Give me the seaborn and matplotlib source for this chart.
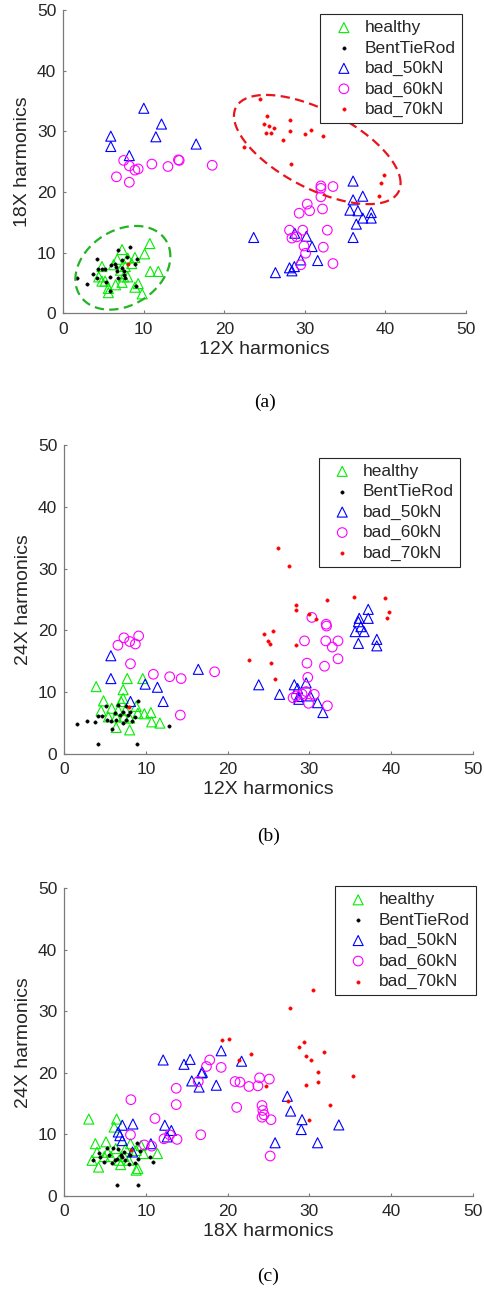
import numpy as np
import pandas as pd
import matplotlib
matplotlib.use("Agg")
import matplotlib.pyplot as plt
import seaborn as sns

# ---------------- data ----------------
classes = ["healthy", "BentTieRod", "bad_50kN", "bad_60kN", "bad_70kN"]

# panel (a): 12X (x) vs 18X (y)
a_healthy_x = [10.75, 10.1, 7.3, 6.7, 4.8, 8.0, 8.9, 7.7, 7.1, 4.4, 5.2, 4.8, 6.5, 5.6, 7.3, 8.0, 9.3, 8.9, 9.8, 10.8, 11.8, 8.5, 6.25, 7.5, 5.6]
a_healthy_y = [11.5, 9.8, 10.5, 8.9, 7.7, 9.1, 9.2, 7.7, 7.1, 6.0, 5.3, 5.3, 4.7, 3.4, 5.1, 6.0, 4.9, 4.3, 3.2, 6.9, 6.9, 8.2, 8.0, 6.0, 4.1]
a_bent_x = [1.7, 2.9, 4.2, 3.75, 4.25, 4.8, 5.2, 4.2, 5.3, 5.8, 6.8, 8.3, 6.4, 5.9, 6.6, 7.3, 7.9, 9.1, 7.6, 7.5, 6.8, 7.7, 9.0, 7.3, 6.7, 5.75, 8.9]
a_bent_y = [5.9, 4.8, 9.0, 6.5, 7.25, 7.25, 7.25, 5.8, 5.1, 3.6, 10.4, 10.9, 8.2, 7.9, 7.7, 7.5, 9.3, 9.0, 7.0, 6.3, 5.9, 5.8, 4.5, 8.8, 7.0, 6.0, 8.1]
a_b50_x = [10.0, 12.2, 11.5, 5.9, 5.9, 8.2, 16.5, 23.65, 26.35, 28.1, 28.4, 28.7, 29.5, 31.6, 30.9, 30.2, 28.75, 36.0, 37.2, 36.0, 35.6, 36.6, 37.2, 38.25, 38.25, 36.4, 36.0]
a_b50_y = [33.8, 31.2, 29.1, 29.2, 27.5, 26.0, 27.9, 12.5, 6.7, 7.5, 7.0, 7.7, 8.8, 8.7, 11.0, 12.7, 13.2, 21.8, 19.3, 18.7, 17.0, 16.9, 15.7, 16.6, 15.7, 14.7, 12.5]
a_b60_x = [7.5, 8.2, 8.9, 9.3, 6.6, 8.2, 11.0, 13.0, 14.4, 14.3, 18.5, 32.0, 32.0, 33.5, 32.0, 30.3, 29.3, 30.6, 32.2, 28.1, 29.75, 32.8, 28.4, 29.0, 29.9, 30.1, 32.3, 29.5, 33.5]
a_b60_y = [25.2, 24.3, 23.6, 23.8, 22.5, 21.6, 24.6, 24.2, 25.2, 25.3, 24.4, 21.0, 20.6, 20.9, 19.2, 18.0, 16.5, 16.9, 17.2, 13.7, 13.7, 13.7, 12.4, 12.6, 11.1, 9.9, 10.9, 8.0, 8.2]
a_b70_x = [24.4, 25.3, 24.9, 25.6, 26.2, 25.2, 25.85, 28.2, 28.2, 30.0, 30.8, 32.2, 27.3, 22.4, 28.3, 39.8, 39.5, 39.2, 8.0]
a_b70_y = [35.3, 32.5, 31.2, 30.9, 30.5, 29.8, 29.8, 31.8, 30.1, 29.6, 30.2, 29.3, 28.5, 27.4, 24.6, 22.8, 21.4, 19.3, 8.2]

# panel (b): 12X (x) vs 24X (y)
b_healthy_x = [3.9, 7.7, 9.6, 7.2, 4.8, 7.2, 4.5, 5.4, 6.35, 6.6, 7.5, 8.8, 9.0, 9.8, 10.6, 10.7, 11.7, 8.0, 6.35, 8.0, 7.3, 6.95, 5.8]
b_healthy_y = [10.9, 12.2, 12.2, 10.4, 8.6, 9.0, 7.0, 6.0, 6.0, 7.1, 7.1, 7.7, 6.6, 6.5, 6.7, 5.2, 5.0, 5.8, 4.3, 3.9, 6.0, 8.5, 7.4]
b_bent_x = [1.56, 2.8, 3.7, 4.1, 8.9, 12.8, 4.1, 4.6, 5.1, 5.2, 5.7, 6.3, 6.8, 5.8, 7.2, 7.6, 8.3, 6.6, 7.6, 8.1, 8.7, 9.0, 6.2, 7.2, 7.8]
b_bent_y = [4.85, 5.4, 5.1, 1.6, 1.6, 4.5, 6.1, 6.1, 7.7, 5.5, 5.4, 5.5, 6.3, 4.0, 5.0, 5.5, 5.3, 7.9, 7.8, 6.85, 6.0, 8.6, 6.7, 6.85, 6.3]
b_b50_x = [5.7, 5.7, 16.4, 9.9, 11.4, 12.1, 8.1, 23.8, 26.35, 28.15, 28.55, 29.6, 28.7, 28.7, 30.1, 31.0, 31.65, 37.2, 36.1, 37.2, 36.0, 36.3, 35.6, 36.7, 36.0, 38.25, 38.25]
b_b50_y = [15.9, 12.2, 13.7, 11.3, 10.8, 8.5, 8.5, 11.2, 9.65, 11.2, 10.6, 11.5, 9.3, 8.85, 9.4, 8.3, 6.7, 23.4, 21.95, 21.95, 21.4, 20.6, 19.8, 19.8, 17.9, 18.55, 17.5]
b_b60_x = [6.56, 7.3, 8.0, 8.7, 9.1, 8.1, 10.9, 12.9, 14.3, 18.4, 14.2, 30.3, 32.05, 32.1, 29.4, 32.0, 33.5, 32.8, 33.5, 29.7, 31.85, 29.8, 28.0, 28.4, 29.1, 29.9, 30.6, 32.2, 29.6]
b_b60_y = [17.6, 18.8, 18.2, 17.8, 19.1, 14.6, 12.9, 12.5, 12.2, 13.3, 6.3, 22.1, 21.0, 20.7, 18.3, 18.3, 18.3, 17.3, 15.4, 14.7, 14.2, 12.4, 9.1, 9.4, 9.7, 8.2, 9.65, 7.8, 10.1]
b_b70_x = [26.2, 27.45, 22.6, 28.4, 28.3, 30.0, 30.8, 32.1, 35.5, 39.2, 39.8, 39.5, 24.4, 25.6, 24.9, 25.2, 28.4, 25.3, 25.8, 7.9]
b_b70_y = [33.4, 30.4, 15.2, 24.1, 23.3, 22.65, 21.8, 24.9, 25.35, 25.3, 22.9, 21.95, 19.4, 19.9, 18.3, 17.8, 17.7, 14.7, 12.2, 7.55]

# panel (c): 18X (x) vs 24X (y)
c_healthy_x = [3.0, 6.4, 6.1, 3.8, 5.1, 4.0, 3.4, 4.2, 4.9, 5.7, 6.3, 6.7, 6.9, 7.3, 8.1, 8.8, 8.8, 9.0, 9.7, 11.4, 5.3, 7.9, 7.5, 9.4]
c_healthy_y = [12.5, 12.5, 11.2, 8.5, 8.8, 7.1, 5.8, 4.7, 6.4, 6.4, 7.7, 5.8, 5.1, 6.4, 8.5, 7.4, 4.2, 4.45, 6.9, 6.9, 7.1, 5.8, 7.7, 8.2]
c_bent_x = [6.5, 9.0, 10.9, 10.5, 3.5, 4.3, 4.8, 5.2, 5.5, 5.9, 5.8, 6.2, 6.6, 6.9, 7.3, 7.4, 7.9, 8.1, 8.6, 9.0, 9.3, 8.9, 6.4, 7.1, 4.4]
c_bent_y = [1.75, 1.75, 5.6, 6.3, 5.8, 7.0, 5.5, 7.8, 6.7, 7.8, 5.3, 5.8, 7.7, 6.7, 7.15, 5.9, 5.15, 6.6, 5.35, 6.05, 7.25, 8.6, 6.05, 6.4, 6.3]
c_b50_x = [7.1, 8.4, 6.6, 6.8, 7.1, 8.35, 10.6, 12.3, 13.1, 12.6, 12.1, 14.65, 15.4, 15.6, 16.5, 16.8, 16.9, 18.6, 19.2, 21.7, 27.3, 27.7, 29.1, 29.0, 25.8, 31.0, 33.6]
c_b50_y = [11.5, 11.7, 10.4, 9.8, 9.0, 7.15, 8.5, 11.5, 10.65, 9.6, 22.1, 21.4, 22.2, 18.7, 17.7, 20.0, 20.1, 18.0, 23.6, 21.9, 16.2, 13.8, 12.4, 10.8, 8.65, 8.65, 11.55]
c_b60_x = [8.15, 11.1, 8.1, 9.8, 10.7, 12.2, 12.9, 13.8, 16.7, 13.7, 13.7, 16.4, 17.4, 17.8, 19.2, 20.9, 21.1, 21.5, 22.6, 23.7, 23.9, 25.1, 24.2, 24.3, 24.45, 24.2, 25.3, 25.2]
c_b60_y = [15.65, 12.6, 9.95, 8.3, 8.1, 9.3, 9.95, 9.2, 9.95, 17.5, 14.85, 18.6, 21.05, 22.1, 20.9, 18.6, 14.4, 18.5, 17.8, 17.9, 19.2, 19.0, 14.7, 13.9, 13.2, 12.8, 12.4, 6.5]
c_b70_x = [8.15, 19.3, 20.1, 22.8, 21.4, 30.45, 27.6, 28.7, 29.4, 29.6, 30.2, 31.8, 31.0, 31.1, 29.6, 35.3, 32.5, 27.35, 29.9, 24.7]
c_b70_y = [7.5, 25.4, 25.5, 23.15, 22.1, 33.55, 30.5, 24.2, 25.0, 22.8, 22.1, 23.4, 20.1, 18.5, 18.05, 19.45, 14.85, 15.4, 12.4, 17.9]

# cluster ellipses drawn on panel (a): centre, half-extents, phase (deg)
ell_green = dict(cx=7.4, cy=7.5, ax=5.9, ay=6.9, phase=74)
ell_red = dict(cx=31.55, cy=27.0, ax=10.35, ay=9.0, phase=128)

xlabels = ["12X harmonics", "12X harmonics", "18X harmonics"]
ylabels = ["18X harmonics", "24X harmonics", "24X harmonics"]
panel_tags = ["(a)", "(b)", "(c)"]
ticks = [0, 10, 20, 30, 40, 50]

# ---------------- style ----------------
sns.set_theme(style="ticks")
plt.rcParams['font.family'] = ['Liberation Sans', 'DejaVu Sans']
plt.rcParams['axes.edgecolor'] = '#7a7a7a'
plt.rcParams['axes.linewidth'] = 0.9

style = {
    "healthy":    dict(marker="^", s=52, color="#00ee00", hollow=True),
    "BentTieRod": dict(marker="o", s=6,  color="black", hollow=False),
    "bad_50kN":   dict(marker="^", s=52, color="#0000ff", hollow=True),
    "bad_60kN":   dict(marker="o", s=48, color="#ff00ff", hollow=True),
    "bad_70kN":   dict(marker="o", s=6,  color="#ff0000", hollow=False),
}

def panel_frame(xs, ys):
    rows = []
    for cls, (x, y) in zip(classes, zip(xs, ys)):
        rows.append(pd.DataFrame({"x": x, "y": y, "cls": cls}))
    return pd.concat(rows, ignore_index=True)

panels = [
    panel_frame([a_healthy_x, a_bent_x, a_b50_x, a_b60_x, a_b70_x],
                [a_healthy_y, a_bent_y, a_b50_y, a_b60_y, a_b70_y]),
    panel_frame([b_healthy_x, b_bent_x, b_b50_x, b_b60_x, b_b70_x],
                [b_healthy_y, b_bent_y, b_b50_y, b_b60_y, b_b70_y]),
    panel_frame([c_healthy_x, c_bent_x, c_b50_x, c_b60_x, c_b70_x],
                [c_healthy_y, c_bent_y, c_b50_y, c_b60_y, c_b70_y]),
]

W, H = 485, 1303
fig = plt.figure(figsize=(W / 100, H / 100), dpi=100)

# axes rectangles in pixels: left, top, right, bottom
rects = [(63.3, 10, 465.8, 313.3), (64.3, 445, 472.8, 754), (64.3, 888.3, 472.8, 1196)]
legend_anchor = [(0.990, 0.987), (0.969, 0.959), (1.008, 1.007)]
tag_y = [402, 836, 1276]

for i, df in enumerate(panels):
    l, t, r, b = rects[i]
    ax = fig.add_axes([l / W, (H - b) / H, (r - l) / W, (b - t) / H])
    for cls in classes:
        st = style[cls]
        sub = df[df["cls"] == cls]
        if st["hollow"]:
            sns.scatterplot(data=sub, x="x", y="y", ax=ax, marker=st["marker"], s=st["s"],
                            color=st["color"], facecolor="none", edgecolor=st["color"],
                            linewidth=0.8, label=cls, zorder=3)
        else:
            sns.scatterplot(data=sub, x="x", y="y", ax=ax, marker=st["marker"], s=st["s"],
                            color=st["color"], edgecolor=st["color"], linewidth=0.3,
                            label=cls, zorder=4)
    if i == 0:
        tt = np.linspace(0, 2 * np.pi, 300)
        for e, col in [(ell_green, "#22b522"), (ell_red, "#e8141c")]:
            ph = np.deg2rad(e["phase"])
            ax.plot(e["cx"] + e["ax"] * np.cos(tt), e["cy"] + e["ay"] * np.cos(tt - ph),
                    color=col, lw=1.6, ls=(0, (4.2, 2.4)), zorder=5)
    ax.set_xlim(0, 50)
    ax.set_ylim(0, 50)
    ax.set_xticks(ticks)
    ax.set_yticks(ticks)
    sns.despine(ax=ax)
    ax.tick_params(direction="in", length=2.5, width=0.8, colors="#7a7a7a",
                   labelcolor="#262626", labelsize=12.5, pad=5)
    ax.tick_params(axis="x", pad=6)
    ax.set_xlabel(xlabels[i], fontsize=14, color="#262626", labelpad=3)
    ax.set_ylabel(ylabels[i], fontsize=14, color="#262626", labelpad=4)
    leg = ax.legend(loc="upper right", bbox_to_anchor=legend_anchor[i], fontsize=12.5,
                    frameon=True, fancybox=False, framealpha=1, edgecolor="#262626",
                    borderpad=0.35, handlelength=2.0, handletextpad=0.2, labelspacing=0.3,
                    borderaxespad=0.0)
    leg.get_frame().set_linewidth(0.8)
    for txt in leg.get_texts():
        txt.set_color("#262626")
    fig.text((l + r) / 2 / W, (H - tag_y[i]) / H, panel_tags[i], ha="center", va="center",
             fontsize=14, family=["Liberation Serif", "DejaVu Serif"], color="black")

fig.savefig("out.png", dpi=100, facecolor="white")
